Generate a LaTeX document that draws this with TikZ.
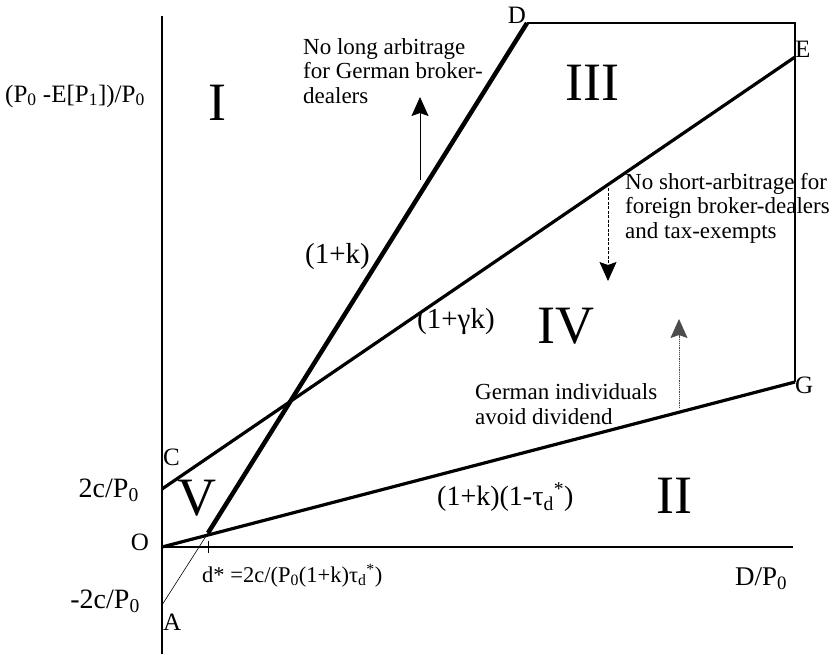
\documentclass[tikz,border=0pt]{standalone}
\usepackage{fontspec}
\setmainfont{Liberation Serif}
\usetikzlibrary{arrows.meta}
\newcommand{\sbp}[1]{\textsubscript{#1}}
\newcommand{\fsz}[1]{\fontsize{#1}{#1}\selectfont}
\begin{document}
\begin{tikzpicture}[x=1pt,y=-1pt,
  lbl/.style={inner sep=0pt,font=\fsz{25}},
  note/.style={inner sep=0pt,align=left,font=\fontsize{23}{24.5}\selectfont},
  roman/.style={inner sep=0pt,font=\fsz{54}},
  axisline/.style={line width=2pt},
  boxline/.style={line width=2.5pt},
  bound/.style={line width=3.2pt},
  steep/.style={line width=4.5pt},
  thinline/.style={line width=0.6pt},
  hint/.style={line width=0.8pt,-{Stealth[length=19pt,width=17pt,inset=3pt]}}]
\useasboundingbox (0,0) rectangle (837,654);
% points
\coordinate (ytop) at (162,16);
\coordinate (ybot) at (162,654);
\coordinate (O) at (162,547);
\coordinate (xend) at (793,547);
\coordinate (C) at (162,489);
\coordinate (A) at (162,605);
\coordinate (ds) at (208,533);
\coordinate (D) at (527,23);
\coordinate (TR) at (795,23);
\coordinate (E) at (795,57);
\coordinate (G) at (795,382);
\coordinate (tickt) at (208,541);
\coordinate (tickb) at (208,553);
% axes
\draw[axisline] (ytop) -- (ybot);
\draw[axisline] (O) -- (xend);
\draw[line width=0.8pt] (tickt) -- (tickb);
% box
\draw[boxline] (D) -- (TR) -- (G);
% boundaries
\draw[thinline] (A) -- (ds);
\draw[steep] (ds) -- (D);
\draw[bound] (C) -- (E);
\draw[bound] (O) -- (G);
% arrows
\coordinate (a1s) at (420,180);
\coordinate (a1e) at (420,97);
\coordinate (a2s) at (608,188);
\coordinate (a2e) at (608,281);
\coordinate (a3s) at (679,408);
\coordinate (a3e) at (679,319);
\draw[hint] (a1s) -- (a1e);
\draw[hint,dash pattern=on 3pt off 1.5pt] (a2s) -- (a2e);
\draw[hint,dash pattern=on 1.2pt off 1pt,draw=black!70,fill=black] (a3s) -- (a3e);
% labels
\node[lbl,anchor=base west] (ylab) at (5,102) {(P\sbp{0} -E[P\sbp{1}])/P\sbp{0}};
\node[roman,anchor=base] (rI) at (217,120) {I};
\node[note,anchor=base west] (n1) at (303,103) {No long arbitrage\\for German broker-\\dealers};
\node[lbl,anchor=base] (lD) at (517,23) {D};
\node[roman,anchor=base] (rIII) at (592,100) {III};
\node[lbl,anchor=base west] (lE) at (795,57) {E};
\node[note,anchor=base west] (n2) at (625,238) {No short-arbitrage for\\foreign broker-dealers\\and tax-exempts};
\node[lbl,font=\fsz{29},anchor=base west] (l1k) at (305,263) {(1+k)};
\node[lbl,font=\fsz{29},anchor=base west] (lgk) at (417,328) {(1+γk)};
\node[roman,anchor=base] (rIV) at (566,343) {IV};
\node[note,anchor=base west] (n3) at (475,424) {German individuals\\avoid dividend};
\node[lbl,anchor=base west] (lG) at (795,393) {G};
\node[lbl,anchor=base west] (lC) at (163,465) {C};
\node[lbl,font=\fsz{28},anchor=base east] (l2c) at (139,497) {2c/P\sbp{0}};
\node[roman,anchor=base] (rV) at (197,515) {V};
\node[lbl,font=\fsz{28},anchor=base west] (ltau) at (437,505) {(1+k)(1-τ\sbp{d}\textsuperscript{*})};
\node[roman,anchor=base] (rII) at (674,513) {II};
\node[lbl,anchor=base] (lO) at (140,550) {O};
\node[lbl,font=\fsz{22.5},anchor=base west] (lds) at (202,582) {d* =2c/(P\sbp{0}(1+k)τ\sbp{d}\textsuperscript{*})};
\node[lbl,font=\fsz{27},anchor=base west] (lx) at (735,585) {D/P\sbp{0}};
\node[lbl,font=\fsz{28},anchor=base east] (lm2c) at (140,608) {-2c/P\sbp{0}};
\node[lbl,anchor=base west] (lA) at (163,630) {A};
\end{tikzpicture}
\end{document}
